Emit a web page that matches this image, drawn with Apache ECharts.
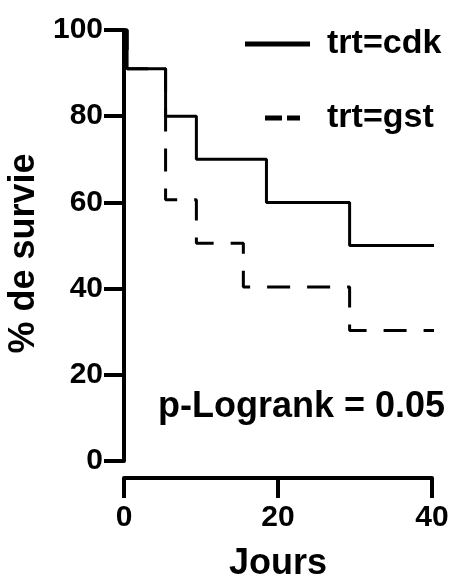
<!DOCTYPE html>
<html>
<head>
<meta charset="utf-8">
<script src="https://cdn.jsdelivr.net/npm/echarts@6/dist/echarts.min.js"></script>
<style>
html, body { margin: 0; padding: 0; background: #fff; }
#km_chart { width: 450px; height: 580px; }
</style>
</head>
<body>
<div id="km_chart"></div>
<script>
// 数据
const seriesNames = ['trt=cdk', 'trt=gst'];
const cdkTimes = [0, 0.4, 5.4, 9.4, 18.5, 29.3, 40.3];
const cdkSurv = [100, 91, 80, 70, 60, 50, 50];
const gstTimes = [0, 0.4, 5.4, 9.4, 15.5, 29.3, 40.3];
const gstSurv = [100, 91, 60.6, 50.5, 40.4, 30.3, 30.3];
const xTicks = [0, 20, 40];
const yTicks = [0, 20, 40, 60, 80, 100];
const xName = 'Jours';
const yName = '% de survie';
const pValueText = 'p-Logrank = 0.05';

const font = '"Liberation Sans", Arial, sans-serif';

let chart = echarts.init(document.getElementById('km_chart'));

function toPoints(times, vals) {
  return times.map((t, i) => [t, vals[i]]);
}

let option = {
  backgroundColor: '#fff',
  animation: false,
  textStyle: { fontFamily: font, fontWeight: 'bold', color: '#000' },
  grid: {
    left: 124,
    right: 18,
    top: 30,
    bottom: 119,
    containLabel: false,
    outerBoundsMode: 'none'
  },
  // 图例：两行，线段样式不同
  legend: [{
    data: [{ name: seriesNames[0], icon: 'rect' }],
    left: 240,
    top: 22,
    itemWidth: 65,
    itemHeight: 5,
    textStyle: {
      fontFamily: font, fontWeight: 'bold', fontSize: 34, color: '#000',
      padding: [0, 0, 18, 12]
    },
    selectedMode: false
  }, {
    data: [{ name: seriesNames[1], icon: 'path://M0,0h17v5h-17zM22,0h13v5h-13z' }],
    left: 260,
    top: 96,
    itemWidth: 35,
    itemHeight: 5,
    textStyle: {
      fontFamily: font, fontWeight: 'bold', fontSize: 34, color: '#000',
      padding: [0, 0, 30, 22]
    },
    selectedMode: false
  }],
  xAxis: {
    type: 'value',
    min: xTicks[0],
    max: xTicks[xTicks.length - 1],
    interval: 20,
    offset: 17,
    name: xName,
    nameLocation: 'middle',
    nameGap: 68,
    nameTextStyle: { fontFamily: font, fontWeight: 'bold', fontSize: 36, color: '#000' },
    axisLine: { onZero: false, lineStyle: { color: '#000', width: 4 } },
    axisTick: { length: 20, lineStyle: { color: '#000', width: 4 } },
    axisLabel: { margin: 25, fontFamily: font, fontWeight: 'bold', fontSize: 30, color: '#000' },
    splitLine: { show: false }
  },
  yAxis: {
    type: 'value',
    min: yTicks[0],
    max: yTicks[yTicks.length - 1],
    interval: 20,
    name: yName,
    nameLocation: 'middle',
    nameGap: 74,
    nameTextStyle: {
      fontFamily: font, fontWeight: 'bold', fontSize: 36, color: '#000',
      padding: [0, 16, 0, 0]
    },
    axisLine: { onZero: false, lineStyle: { color: '#000', width: 4 } },
    axisTick: { length: 20, lineStyle: { color: '#000', width: 4 } },
    axisLabel: { margin: 21, fontFamily: font, fontWeight: 'bold', fontSize: 30, color: '#000' },
    splitLine: { show: false }
  },
  graphic: [{
    type: 'text',
    left: 158,
    top: 389,
    style: {
      text: pValueText,
      font: 'bold 36px ' + font,
      fill: '#000'
    }
  }],
  series: [{
    name: seriesNames[0],
    type: 'line',
    step: 'end',
    symbol: 'none',
    clip: false,
    color: '#000',
    lineStyle: { color: '#000', width: 3 },
    data: toPoints(cdkTimes, cdkSurv)
  }, {
    name: seriesNames[1],
    type: 'line',
    step: 'end',
    symbol: 'none',
    clip: false,
    color: '#000',
    lineStyle: { color: '#000', width: 3, type: [23, 17] },
    data: toPoints(gstTimes, gstSurv)
  }]
};

chart.setOption(option);
</script>
</body>
</html>
